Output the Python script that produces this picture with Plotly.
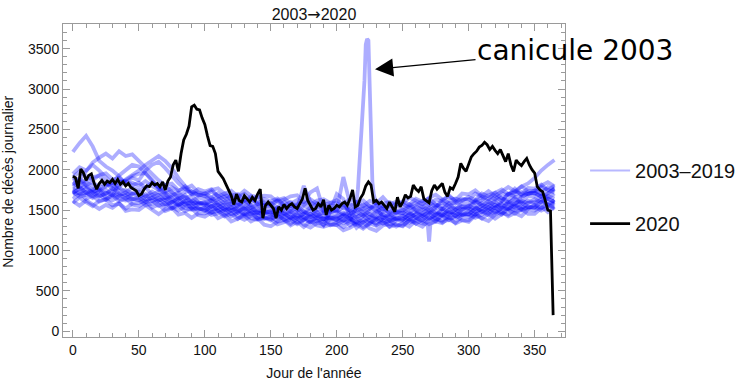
import plotly.graph_objects as go

# ---------------- data ----------------
days_grid = list(range(0, 366, 5))
days_2003 = list(range(0, 211, 5)) + [214, 216, 217, 218, 219, 220, 221, 222, 223, 224, 225, 226, 227, 228, 230] + list(range(235, 366, 5))
days_2004 = list(range(0, 266, 5)) + [269, 270, 271] + list(range(275, 366, 5))
days_2020 = list(range(0, 366, 2))

deaths_2003 = [1710,1765,1790,1720,1765,1695,1770,1710,1690,1710,
               1700,1630,1650,1690,1700,1610,1565,1615,1625,1570,
               1600,1540,1600,1550,1490,1540,1500,1560,1460,1480,
               1440,1505,1450,1400,1465,1490,1415,1440,1385,1450,
               1425,1460,1380,
               1500,1750,2000,2350,2600,2680,3100,3550,3620,3600,3000,2400,1850,1700,1560,
               1400,1450,1385,
               1380,1445,1480,1425,1485,1430,1520,1475,1475,1515,
               1525,1475,1515,1575,1605,1535,1515,1585,1615,1585,
               1635,1595,1675,1645]
deaths_2004 = [1610,1555,1620,1570,1515,1565,1530,1590,1490,1510,
               1500,1560,1500,1450,1510,1530,1445,1465,1405,1460,
               1460,1490,1400,1440,1360,1390,1430,1360,1400,1320,
               1300,1355,1380,1310,1355,1290,1365,1310,1295,1320,
               1315,1250,1280,1330,1350,1275,1245,1310,1330,1295,
               1340,1295,1370,1335,
               1320,1110,1330,
               1360,1340,1415,1335,1375,
               1355,1435,1395,1365,1445,1485,1425,1465,1425,1505,
               1495,1545,1475,1535]
deaths_2005 = [1760,1705,1770,1720,1665,1715,1680,1840,1870,1920,
               1950,1960,1880,1780,1720,1650,1565,1585,1525,1580,
               1550,1580,1490,1530,1450,1480,1520,1450,1490,1410,
               1390,1445,1470,1400,1445,1380,1455,1400,1385,1410,
               1405,1340,1370,1420,1440,1365,1335,1400,1420,1385,
               1430,1385,1460,1425,1385,1450,1430,1505,1425,1465,
               1445,1525,1485,1455,1535,1575,1515,1555,1515,1595,
               1585,1635,1565,1625]
deaths_2006 = [1690,1725,1640,1680,1605,1635,1680,1610,1650,1570,
               1550,1600,1620,1550,1590,1520,1585,1525,1505,1520,
               1510,1440,1460,1500,1510,1420,1380,1430,1440,1390,
               1420,1365,1430,1380,1325,1380,1345,1410,1315,1480,
               1700,1640,1420,1280,1350,1385,1315,1350,1300,1375,
               1360,1405,1330,1385,1325,1370,1430,1375,1435,1375,
               1375,1445,1485,1435,1495,1445,1535,1495,1495,1535,
               1545,1495,1535,1595]
deaths_2007 = [1590,1655,1600,1550,1615,1635,1560,1580,1520,1580,
               1590,1620,1530,1570,1490,1520,1555,1485,1525,1440,
               1420,1470,1490,1420,1460,1390,1460,1400,1380,1400,
               1390,1325,1350,1390,1405,1320,1285,1340,1355,1310,
               1345,1290,1360,1320,1270,1335,1305,1380,1290,1325,
               1300,1375,1330,1295,1375,1410,1350,1385,1345,1425,
               1415,1465,1395,1455,1395,1445,1505,1455,1515,1455,
               1455,1525,1565,1515]
deaths_2008 = [1760,1795,1710,1750,1675,1705,1750,1680,1720,1640,
               1620,1670,1690,1620,1660,1590,1655,1595,1575,1590,
               1580,1510,1530,1570,1580,1490,1450,1500,1510,1460,
               1490,1435,1500,1450,1395,1450,1415,1480,1385,1410,
               1375,1440,1390,1350,1420,1455,1385,1420,1370,1445,
               1430,1475,1400,1455,1395,1440,1500,1445,1505,1445,
               1445,1515,1555,1505,1565,1515,1605,1565,1665,1705,
               1715,1665,1705,1765]
deaths_2009 = [1950,2030,1990,2060,1990,1900,1820,1740,1750,1700,
               1730,1670,1730,1680,1620,1670,1625,1685,1585,1600,
               1560,1620,1560,1510,1570,1590,1510,1530,1470,1530,
               1500,1535,1450,1490,1415,1450,1495,1430,1475,1400,
               1385,1440,1470,1410,1460,1405,1485,1440,1430,1465,
               1470,1415,1450,1505,1535,1460,1440,1505,1535,1505,
               1555,1515,1595,1565,1525,1595,1575,1655,1575,1615,
               1595,1675,1635,1605]
deaths_2010 = [1730,1665,1690,1730,1745,1655,1620,1670,1680,1630,
               1660,1600,1660,1610,1550,1600,1555,1615,1515,1530,
               1490,1550,1490,1440,1500,1520,1440,1460,1400,1460,
               1430,1465,1380,1420,1345,1380,1425,1360,1405,1330,
               1315,1370,1400,1340,1390,1335,1415,1370,1360,1395,
               1400,1345,1380,1435,1465,1390,1370,1435,1465,1435,
               1485,1445,1525,1495,1455,1525,1505,1585,1505,1545,
               1525,1605,1565,1535]
deaths_2011 = [1710,1775,1720,1670,1735,1755,1680,1700,1640,1700,
               1670,1700,1610,1650,1570,1600,1635,1565,1605,1520,
               1500,1550,1570,1500,1540,1470,1540,1480,1460,1480,
               1470,1405,1430,1470,1485,1400,1365,1420,1435,1390,
               1425,1370,1440,1400,1350,1415,1385,1460,1370,1405,
               1380,1455,1410,1375,1455,1490,1430,1465,1425,1505,
               1495,1545,1475,1535,1475,1525,1585,1535,1595,1535,
               1535,1605,1645,1595]
deaths_2012 = [1840,1785,1850,1800,1745,1795,1840,1930,1990,2060,
               2040,1960,1860,1760,1710,1730,1645,1665,1605,1660,
               1630,1660,1570,1610,1530,1560,1600,1530,1570,1490,
               1470,1525,1550,1480,1525,1460,1535,1480,1465,1490,
               1485,1420,1450,1500,1520,1445,1415,1480,1500,1465,
               1510,1465,1540,1505,1465,1530,1510,1585,1505,1545,
               1525,1605,1565,1535,1615,1655,1595,1635,1595,1675,
               1665,1715,1645,1705]
deaths_2013 = [1860,1895,1810,1850,1775,1805,1850,1780,1880,1930,
               1990,2060,2120,2170,2110,2020,1900,1800,1730,1690,
               1680,1610,1630,1670,1680,1590,1550,1600,1610,1560,
               1590,1535,1600,1550,1495,1550,1515,1580,1485,1510,
               1475,1540,1490,1450,1520,1555,1485,1520,1470,1545,
               1530,1575,1500,1555,1495,1540,1600,1545,1605,1545,
               1545,1615,1655,1605,1665,1615,1705,1665,1665,1705,
               1715,1665,1705,1765]
deaths_2014 = [1640,1695,1720,1650,1695,1625,1700,1640,1620,1640,
               1630,1560,1580,1620,1630,1540,1495,1545,1555,1500,
               1530,1470,1530,1480,1420,1470,1430,1490,1390,1410,
               1370,1435,1380,1330,1395,1420,1345,1370,1315,1380,
               1355,1390,1310,1360,1290,1335,1385,1330,1380,1315,
               1310,1375,1410,1355,1415,1360,1450,1405,1405,1445,
               1455,1405,1445,1505,1535,1465,1445,1515,1545,1515,
               1565,1525,1605,1575]
deaths_2015 = [1820,1875,1980,2090,2150,2200,2140,2230,2170,2190,
               2110,2030,1940,1870,1810,1720,1675,1725,1735,1680,
               1710,1650,1710,1660,1600,1650,1610,1670,1570,1590,
               1550,1615,1560,1510,1575,1600,1720,1770,1495,1560,
               1535,1570,1490,1540,1470,1515,1565,1510,1560,1495,
               1490,1555,1590,1535,1595,1540,1630,1585,1585,1625,
               1635,1585,1625,1685,1715,1645,1625,1695,1725,1695,
               1745,1705,1785,1755]
deaths_2016 = [1790,1855,1800,1750,1815,1835,1760,1780,1720,1780,
               1750,1780,1690,1730,1650,1680,1715,1645,1685,1600,
               1580,1630,1650,1580,1620,1550,1620,1560,1540,1560,
               1550,1485,1510,1550,1565,1480,1445,1500,1515,1470,
               1505,1450,1520,1480,1430,1495,1465,1540,1450,1485,
               1460,1535,1490,1455,1535,1570,1510,1545,1505,1585,
               1575,1625,1555,1615,1555,1605,1700,1720,1790,1830,
               1900,1990,2060,2120]
deaths_2017 = [2220,2330,2420,2290,2110,2040,1990,1920,1820,1840,
               1800,1860,1800,1750,1810,1830,1745,1765,1705,1760,
               1730,1760,1670,1710,1630,1660,1700,1630,1670,1590,
               1570,1625,1650,1580,1625,1560,1635,1580,1565,1590,
               1585,1520,1550,1600,1620,1545,1515,1580,1600,1565,
               1610,1565,1640,1605,1565,1630,1610,1685,1605,1645,
               1625,1705,1665,1635,1715,1755,1695,1735,1695,1775,
               1765,1815,1745,1805]
deaths_2018 = [1910,1975,1920,1870,1935,1955,1880,1900,1840,1900,
               1870,1990,2060,2100,2020,1930,1835,1765,1805,1720,
               1700,1750,1770,1700,1740,1670,1740,1680,1660,1680,
               1670,1605,1630,1670,1685,1600,1565,1620,1635,1590,
               1625,1570,1640,1600,1550,1615,1585,1660,1570,1605,
               1580,1655,1610,1575,1655,1690,1630,1665,1625,1705,
               1695,1745,1675,1735,1675,1725,1785,1735,1795,1735,
               1735,1805,1845,1795]
deaths_2019 = [1910,1845,1870,1910,1925,1835,1800,1850,1860,1810,
               1840,1780,1840,1790,1730,1780,1735,1795,1695,1710,
               1670,1730,1670,1620,1680,1700,1620,1640,1580,1640,
               1610,1645,1560,1600,1525,1800,1605,1540,1585,1510,
               1495,1910,1580,1520,1570,1515,1595,1550,1540,1575,
               1580,1525,1560,1615,1645,1570,1550,1615,1645,1615,
               1665,1625,1705,1675,1635,1705,1685,1765,1685,1725,
               1705,1785,1745,1715]

deaths_2020 = [1920,1900,1770,2010,1960,1870,1930,1950,1840,1760,
               1830,1870,1820,1860,1840,1880,1830,1880,1820,1850,
               1800,1830,1780,1760,1740,1680,1700,1760,1800,1790,
               1840,1810,1830,1790,1850,1750,1860,1910,2060,2120,
               1980,2200,2370,2440,2540,2780,2800,2750,2740,2640,
               2560,2420,2300,2290,2200,1980,1930,1890,1820,1750,
               1680,1570,1700,1620,1600,1680,1640,1600,1660,1620,
               1700,1760,1400,1560,1600,1560,1520,1400,1540,1500,
               1570,1520,1560,1580,1540,1520,1580,1640,1770,1620,
               1560,1500,1520,1580,1540,1630,1440,1560,1500,1520,
               1560,1540,1580,1600,1560,1640,1750,1540,1560,1650,
               1700,1800,1850,1810,1600,1620,1580,1600,1560,1520,
               1600,1540,1480,1660,1540,1600,1690,1650,1670,1810,
               1760,1730,1790,1640,1620,1590,1740,1810,1760,1790,
               1830,1720,1670,1780,1760,1830,1910,2080,2020,1980,
               2060,2160,2200,2230,2280,2300,2340,2310,2250,2290,
               2240,2200,2250,2180,2100,2200,2060,1980,2120,2080,
               2050,2100,2140,2060,2000,1960,1790,1750,1730,1620,
               1500,1490,200]

x_ticks = [0, 50, 100, 150, 200, 250, 300, 350]
y_ticks = [0, 500, 1000, 1500, 2000, 2500, 3000, 3500]
title_text = '2003<span style="font-family:DejaVu Sans">→</span>2020'
x_title = "Jour de l'année"
y_title = "Nombre de décès journalier"
label_old = "2003–2019"
label_new = "2020"
heat_label = "canicule 2003"
heat_day, heat_value = 229, 3245

# ---------------- figure ----------------
blue_series = [
    (days_2003, deaths_2003), (days_2004, deaths_2004), (days_grid, deaths_2005),
    (days_grid, deaths_2006), (days_grid, deaths_2007), (days_grid, deaths_2008),
    (days_grid, deaths_2009), (days_grid, deaths_2010), (days_grid, deaths_2011),
    (days_grid, deaths_2012), (days_grid, deaths_2013), (days_grid, deaths_2014),
    (days_grid, deaths_2015), (days_grid, deaths_2016), (days_grid, deaths_2017),
    (days_grid, deaths_2018), (days_grid, deaths_2019),
]
blue_plot = "rgba(0,0,255,0.32)"
blue_key = "rgba(0,0,255,0.28)"

fig = go.Figure()
for xs, ys in blue_series:
    fig.add_trace(go.Scatter(
        x=xs, y=ys, mode="lines",
        line=dict(color=blue_plot, width=3.8),
        name=label_old, legendgroup="old", showlegend=False,
        hoverinfo="skip",
    ))
# legend entry only (no data) so the key line keeps a thin stroke
fig.add_trace(go.Scatter(
    x=[None], y=[None], mode="lines",
    line=dict(color=blue_key, width=2),
    name=label_old, legendgroup="old", showlegend=True,
))
fig.add_trace(go.Scatter(
    x=days_2020, y=deaths_2020, mode="lines",
    line=dict(color="black", width=2.8),
    name=label_new, legendgroup="new", showlegend=True,
))

frame = "#9a9a9a"
axis_common = dict(
    showline=True, linecolor=frame, linewidth=1, mirror="ticks",
    ticks="inside", ticklen=7, tickwidth=1, tickcolor=frame,
    showgrid=False, zeroline=False, automargin=False,
    tickfont=dict(size=14, color="#111"),
)
fig.update_xaxes(
    range=[-7.5, 373], tickvals=x_ticks,
    minor=dict(dtick=10, tick0=0, ticks="inside", ticklen=4, tickcolor=frame, showgrid=False),
    title=dict(text=x_title, font=dict(size=14, color="#111"), standoff=11),
    **axis_common,
)
fig.update_yaxes(
    range=[-71, 3805], tickvals=y_ticks,
    minor=dict(dtick=100, tick0=0, ticks="inside", ticklen=4, tickcolor=frame, showgrid=False),
    **axis_common,
)

# y-axis title placed as rotated text left of the tick labels
fig.add_annotation(
    x=-55 / 505, y=0.497, xref="paper", yref="paper", textangle=-90,
    text=y_title, showarrow=False, xanchor="center", yanchor="middle",
    font=dict(size=14, color="#111"),
)

fig.add_annotation(
    x=heat_day, y=heat_value, xref="x", yref="y",
    text=heat_label, showarrow=True,
    ax=200, ay=-19, axref="pixel", ayref="pixel",
    arrowhead=2, arrowsize=2.8, arrowwidth=1.3, arrowcolor="black",
    font=dict(family="DejaVu Sans", size=28, color="black"),
)

fig.update_layout(
    width=753, height=382,
    margin=dict(l=63, r=185, t=24, b=45),
    paper_bgcolor="white", plot_bgcolor="white",
    font=dict(family="Liberation Sans", size=14, color="#111"),
    title=dict(text=title_text, x=0.5, xref="paper", y=1 - 14 / 382, yref="container",
               yanchor="middle", font=dict(size=16, color="#111")),
    legend=dict(x=1.04, y=0.594, xanchor="left", yanchor="top", itemwidth=40,
                font=dict(size=20, color="#111"), tracegroupgap=24,
                bgcolor="rgba(0,0,0,0)"),
    showlegend=True,
)

fig.write_html("out.html")
